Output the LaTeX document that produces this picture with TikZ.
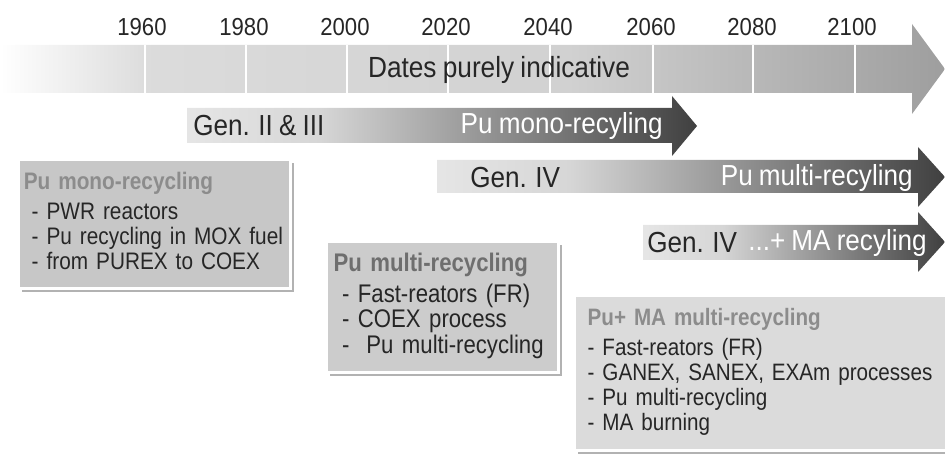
\documentclass[tikz,border=0pt]{standalone}
\usepackage{fontspec}
\setmainfont{Liberation Sans}
\newfontfamily\narrowfont{Liberation Sans}[FakeStretch=0.9, WordSpace=0.85]
\newfontfamily\boxfont{Liberation Sans}[FakeStretch=0.87, WordSpace=0.8]
\usetikzlibrary{shadows}

\pgfdeclarehorizontalshading{timebar}{100bp}{color(0bp)=(white); color(25bp)=(white); color(33bp)=(black!14); color(55bp)=(black!18); color(75bp)=(black!38); color(100bp)=(black!38)}
\pgfdeclarehorizontalshading{genbar}{100bp}{color(0bp)=(black!10); color(25bp)=(black!10); color(38bp)=(black!16); color(75bp)=(black!75); color(100bp)=(black!75)}

\tikzset{
    year/.style={font=\narrowfont\fontsize{14}{14}\selectfont, text=black!85, inner sep=0pt},
    bartext/.style={font=\narrowfont\fontsize{16.5}{17}\selectfont, inner sep=0pt},
    infobox/.style={draw=white, line width=1.7pt, anchor=north west, align=left,
        inner ysep=3pt, text=black!85,
        font=\boxfont\fontsize{14.5}{14.2}\selectfont,
        drop shadow={shadow xshift=2pt, shadow yshift=-2pt, fill=black!60}}
}

\begin{document}
\begin{tikzpicture}[x=0.02cm, y=-0.02cm]
    \useasboundingbox (0,0) rectangle (945,455);

    \shade[shading=timebar] (0,45) -- (912,45) -- (912,24) -- (945,69) -- (912,114) -- (912,93) -- (0,93) -- cycle;
    \begin{scope}[white, line width=1.2pt]
        \draw (145,45) -- (145,93);
        \draw (246,45) -- (246,93);
        \draw (347,45) -- (347,93);
        \draw (448,45) -- (448,93);
        \draw (550,45) -- (550,93);
        \draw (653,45) -- (653,93);
        \draw (753,45) -- (753,93);
        \draw (855,45) -- (855,93);
    \end{scope}

    \begin{scope}[every node/.style={year}]
        \node (y1960) at (142,27) {1960};
        \node (y1980) at (244,27) {1980};
        \node (y2000) at (345,27) {2000};
        \node (y2020) at (446,27) {2020};
        \node (y2040) at (548,27) {2040};
        \node (y2060) at (651,27) {2060};
        \node (y2080) at (752,27) {2080};
        \node (y2100) at (852,27) {2100};
    \end{scope}
    \node (dates) [bartext, text=black!85, font=\narrowfont\fontsize{16.6}{17}\selectfont] at (499,70) {Dates purely indicative};

    \shade[shading=genbar] (187,108) -- (672,108) -- (672,96) -- (697,126) -- (672,156) -- (672,143) -- (187,143) -- cycle;
    \shade[shading=genbar] (437,160) -- (918,160) -- (918,147) -- (945,177) -- (918,207) -- (918,193) -- (437,193) -- cycle;
    \shade[shading=genbar] (643,225) -- (918,225) -- (918,212) -- (945,242) -- (918,272) -- (918,260) -- (643,260) -- cycle;

    \begin{scope}[every node/.style={bartext}]
        \node (gen2) [anchor=west, text=black!85] at (193,126) {Gen. II \& III};
        \node (mono) [anchor=east, text=white] at (663,126) {Pu mono-recyling};
        \node (gen4) [anchor=west, text=black!85] at (470,178) {Gen. IV};
        \node (multi) [anchor=east, text=white] at (913,178) {Pu multi-recyling};
        \node (gen4ma) [anchor=west, text=black!85] at (647,243) {Gen. IV};
        \node (ma) [anchor=east, text=white] at (927,243) {...+ MA recyling};
    \end{scope}

    \node (monobox) [infobox, fill=black!22, inner xsep=3pt, text width=149pt, minimum height=73.7pt,
        font=\boxfont\fontsize{13.6}{14.2}\selectfont] at (17,158)
        {\begin{tabular}{@{}l@{}}
         \textcolor{black!45}{\bfseries Pu mono-recycling}\\[3pt]
         \ - PWR reactors\\
         \ - Pu recycling in MOX fuel\\
         \ - from PUREX to COEX
         \end{tabular}};
    \node (multibox) [infobox, fill=black!20, inner xsep=4pt, text width=124pt, minimum height=74.8pt] at (325,240)
        {\begin{tabular}{@{}l@{}}
         \textcolor{black!57}{\bfseries Pu multi-recycling}\\[3pt]
         \ - Fast-reators (FR)\\
         \ - COEX process\\
         \ -\ \ Pu multi-recycling
         \end{tabular}};
    \node (mabox) [infobox, fill=black!14, inner xsep=7.5pt, text width=215pt, minimum height=88.5pt,
        font=\boxfont\fontsize{13.5}{14.2}\selectfont] at (573,294)
        {\begin{tabular}{@{}l@{}}
         \textcolor{black!45}{\bfseries Pu+ MA multi-recycling}\\[3pt]
         - Fast-reators (FR)\\
         - GANEX, SANEX, EXAm processes\\
         - Pu multi-recycling\\
         - MA burning
         \end{tabular}};
\end{tikzpicture}
\end{document}
